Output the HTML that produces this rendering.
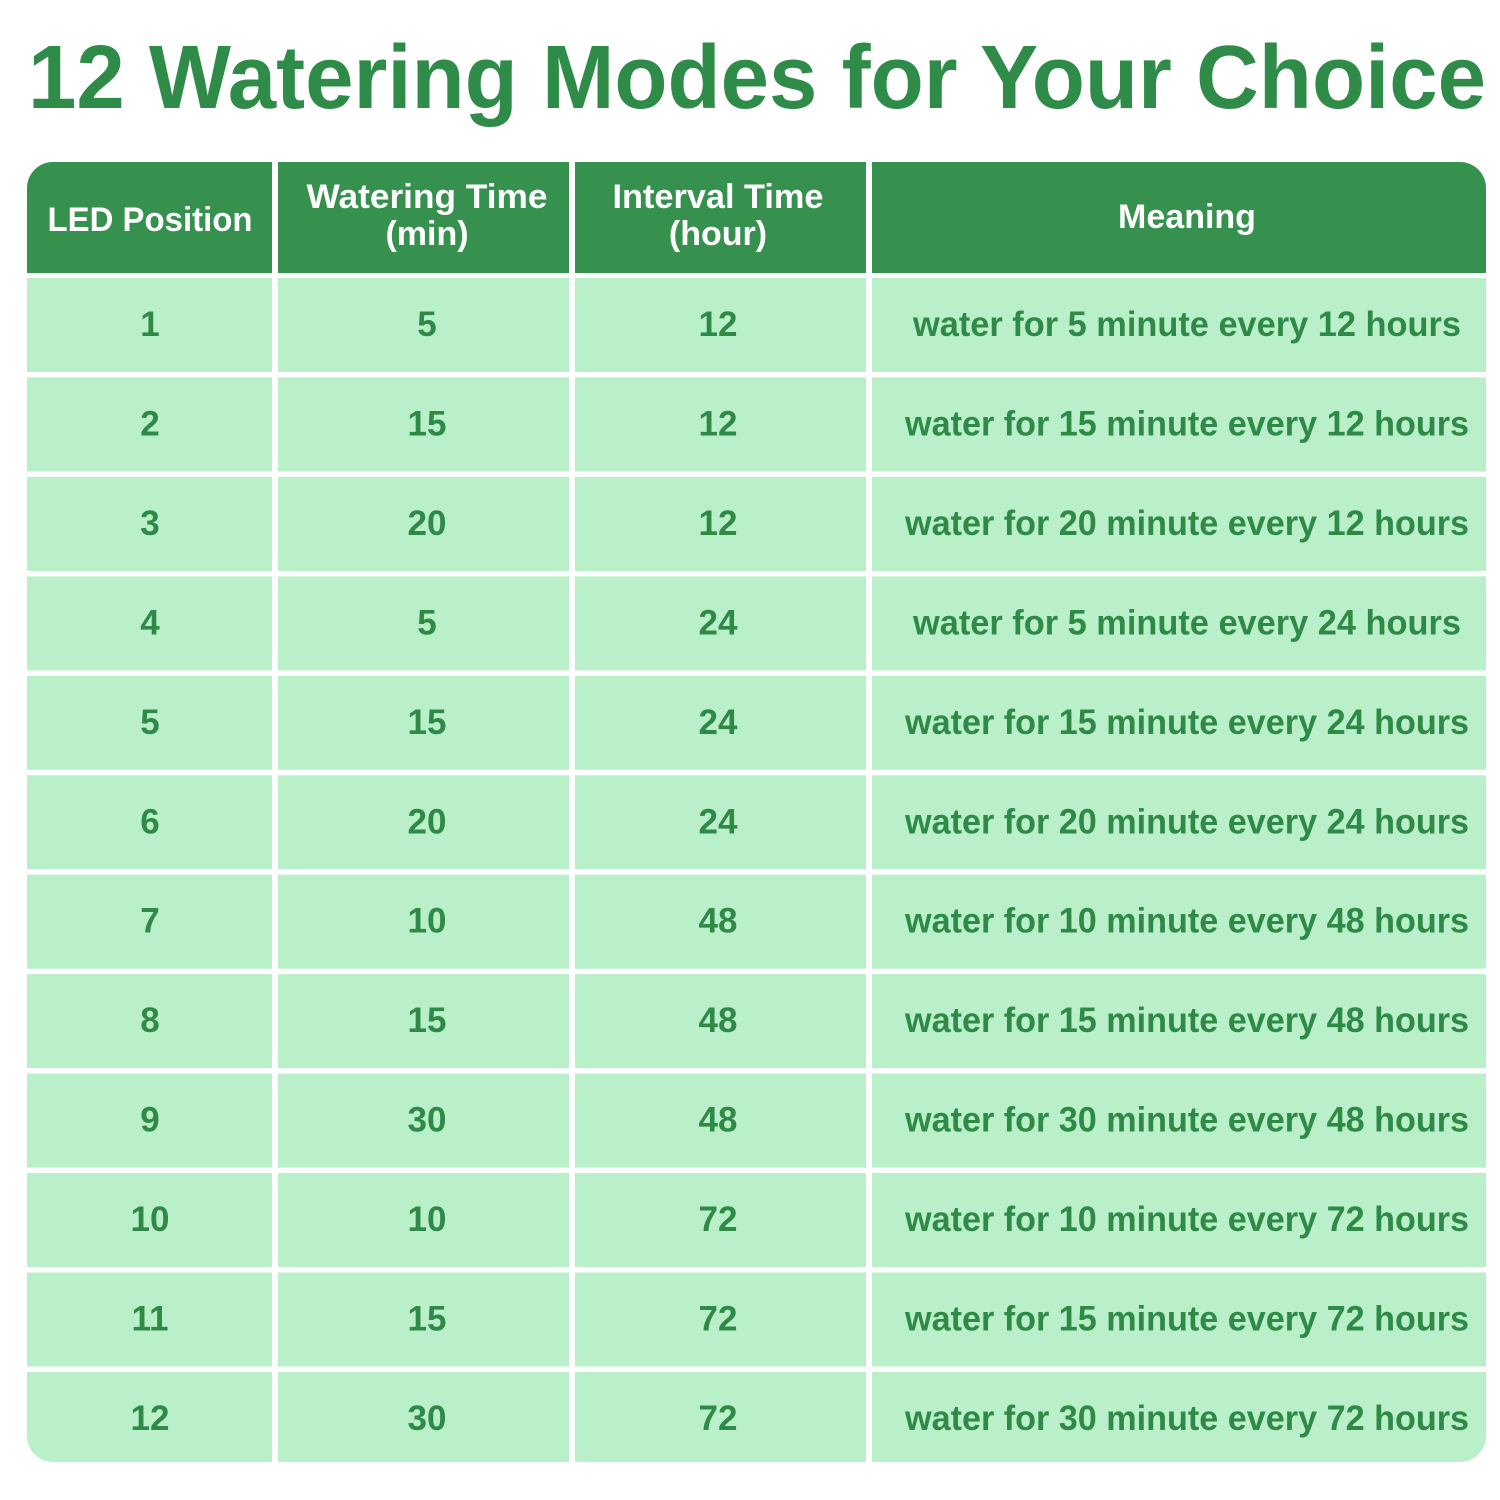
<!DOCTYPE html>
<html><head><meta charset="utf-8"><style>
html,body{margin:0;padding:0;background:#fff;}
svg{display:block;}
</style></head><body>
<svg width="1500" height="1500" viewBox="0 0 1500 1500" xmlns="http://www.w3.org/2000/svg" font-family="Liberation Sans, Arial, sans-serif">
<rect width="1500" height="1500" fill="#fff"/>
<text x="28" y="108" font-size="90" font-weight="bold" fill="#2f8c48" textLength="1458" lengthAdjust="spacingAndGlyphs">12 Watering Modes for Your Choice</text>
<defs>
<clipPath id="c"><rect x="27" y="162" width="1459" height="1300" rx="26" ry="26"/></clipPath>
</defs>
<g clip-path="url(#c)">
<rect x="27" y="162" width="245" height="111" fill="#36914f"/>
<rect x="278" y="162" width="291" height="111" fill="#36914f"/>
<rect x="575" y="162" width="291" height="111" fill="#36914f"/>
<rect x="872" y="162" width="614" height="111" fill="#36914f"/>
<g id="rows" fill="#b9f0c9"></g>
</g>
<g fill="#fff" font-weight="bold" font-size="34" text-anchor="middle">
<text x="150" y="231" textLength="205" lengthAdjust="spacingAndGlyphs">LED Position</text>
<text x="427" y="208" textLength="241" lengthAdjust="spacingAndGlyphs">Watering Time</text>
<text x="427" y="245">(min)</text>
<text x="718" y="208" textLength="211" lengthAdjust="spacingAndGlyphs">Interval Time</text>
<text x="718" y="245">(hour)</text>
<text x="1187" y="228">Meaning</text>
</g>
<g id="txt" fill="#2f8a48" font-size="35" font-weight="bold" text-anchor="middle"></g>
<script>
var data=[[1,5,12],[2,15,12],[3,20,12],[4,5,24],[5,15,24],[6,20,24],[7,10,48],[8,15,48],[9,30,48],[10,10,72],[11,15,72],[12,30,72]];
var ns="http://www.w3.org/2000/svg",R=document.getElementById("rows"),T=document.getElementById("txt");
var cols=[[27,245],[278,291],[575,291],[872,614]];
data.forEach(function(d,i){
 var y=278+i*99.45,h=(i==11)?1470-y:94;
 cols.forEach(function(c){var r=document.createElementNS(ns,"rect");r.setAttribute("x",c[0]);r.setAttribute("y",y);r.setAttribute("width",c[1]);r.setAttribute("height",h);R.appendChild(r);});
 var s=["" +d[0],""+d[1],""+d[2],"water for "+d[1]+" minute every "+d[2]+" hours"];
 var xs=[150,427,718,1187];
 s.forEach(function(t,j){var e=document.createElementNS(ns,"text");e.setAttribute("x",xs[j]);e.setAttribute("y",y+58);e.textContent=t;
  if(j==3){e.setAttribute("textLength",(16.6*t.length).toFixed(0));e.setAttribute("lengthAdjust","spacingAndGlyphs");}
  T.appendChild(e);});
});
</script>
</svg>
</body></html>
